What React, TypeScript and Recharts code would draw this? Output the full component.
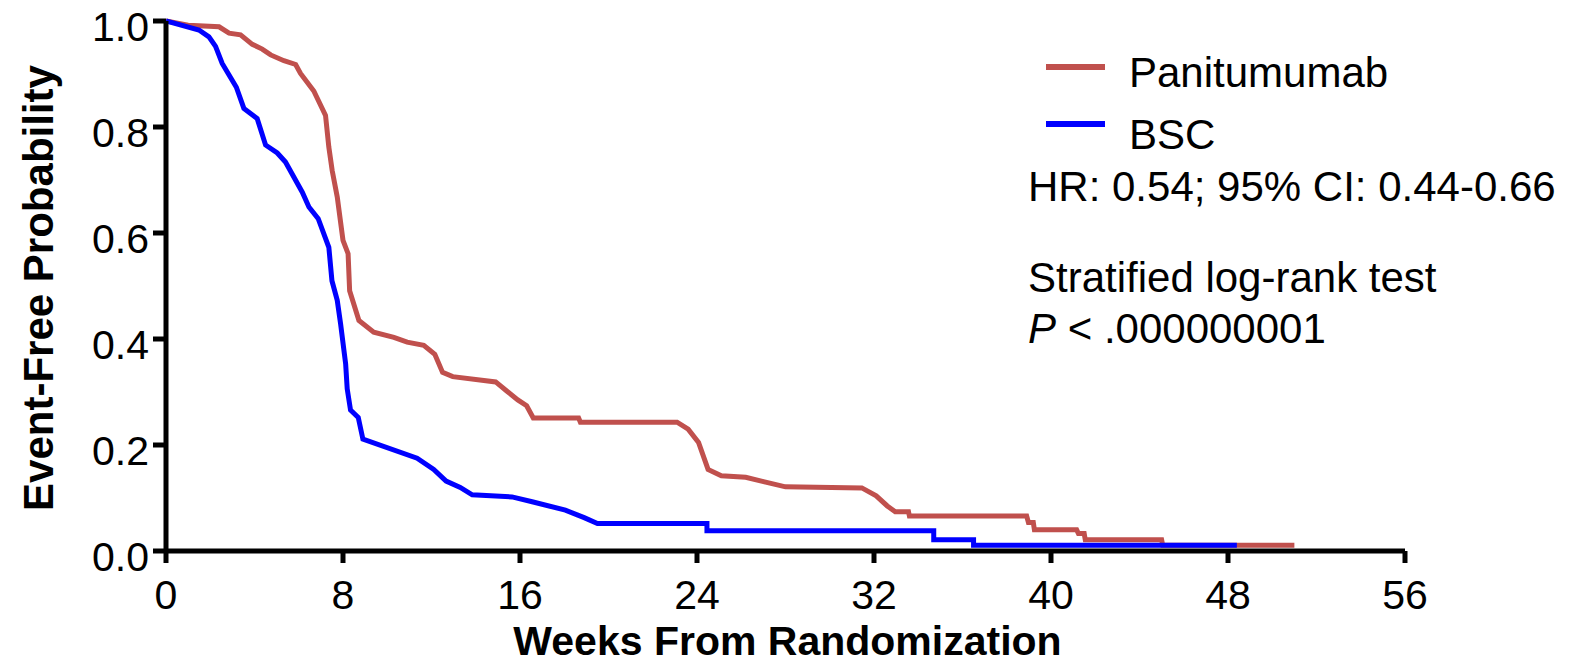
import { LineChart, Line, XAxis, YAxis, Legend, Label } from 'recharts';

const FONT = '"Liberation Sans", Arial, Helvetica, sans-serif';

// Kaplan-Meier estimates (weeks, event-free probability)
const panitumumabWeeks = [
  0, 1.0, 2.4, 2.85, 3.37, 3.9, 4.35, 4.73, 5.33, 5.86, 6.08, 6.68, 7.21, 7.36, 7.51, 7.74, 8.0,
  8.23, 8.3, 8.72, 9.39, 10.3, 10.9, 11.65, 12.15, 12.5, 12.96, 14.9, 15.4, 15.9, 16.3, 16.6,
  18.65, 18.73, 23.1, 23.6, 24.07, 24.5, 25.1, 26.2, 27.1, 28.0, 31.45, 32.1, 32.6, 32.96, 33.56,
  33.6, 38.9, 38.98, 39.2, 39.25, 41.16, 41.24, 41.5, 41.55, 45.0, 45.05, 51.0,
];
const panitumumabSurvival = [
  1.0, 0.992, 0.989, 0.977, 0.974, 0.956, 0.947, 0.936, 0.925, 0.918, 0.901, 0.868, 0.822, 0.762,
  0.718, 0.668, 0.586, 0.561, 0.491, 0.435, 0.413, 0.403, 0.394, 0.388, 0.371, 0.337, 0.329, 0.319,
  0.302, 0.285, 0.274, 0.251, 0.251, 0.243, 0.243, 0.23, 0.205, 0.154, 0.142, 0.139, 0.13, 0.121,
  0.119, 0.104, 0.085, 0.074, 0.074, 0.066, 0.066, 0.054, 0.054, 0.04, 0.04, 0.033, 0.033, 0.021,
  0.021, 0.011, 0.011,
];

const bscWeeks = [
  0, 1.49, 1.94, 2.24, 2.54, 2.85, 3.18, 3.52, 4.12, 4.5, 5.03, 5.4, 6.16, 6.46, 6.88, 7.36, 7.5,
  7.74, 7.89, 8.12, 8.19, 8.34, 8.69, 8.9, 11.35, 12.1, 12.66, 13.3, 13.84, 15.64, 16.55, 18.05,
  18.9, 19.5, 24.45, 24.45, 34.7, 34.7, 36.5, 36.5, 48.4,
];
const bscSurvival = [
  1.0, 0.983, 0.97, 0.952, 0.92, 0.898, 0.875, 0.835, 0.816, 0.766, 0.751, 0.734, 0.677, 0.649,
  0.627, 0.573, 0.51, 0.473, 0.429, 0.353, 0.306, 0.266, 0.252, 0.211, 0.175, 0.154, 0.132, 0.12,
  0.106, 0.102, 0.093, 0.077, 0.063, 0.052, 0.052, 0.038, 0.038, 0.021, 0.021, 0.011, 0.011,
];

const weekTicks = [0, 8, 16, 24, 32, 40, 48, 56];
const probabilityTicks = [0, 0.2, 0.4, 0.6, 0.8, 1.0];

const hazardText = 'HR: 0.54; 95% CI: 0.44-0.66';
const testText = 'Stratified log-rank test';
const pValueText = ' < .000000001';

const toPoints = (weeks: number[], survival: number[]) =>
  weeks.map((week, i) => ({ week, prob: survival[i] }));

const series = [
  { name: 'Panitumumab', color: '#C0504D', width: 5, data: toPoints(panitumumabWeeks, panitumumabSurvival) },
  { name: 'BSC', color: '#0000FF', width: 5, data: toPoints(bscWeeks, bscSurvival) },
];

const XTick = ({ x, y, payload }: any) => (
  <text x={x} y={y} dy={46} textAnchor="middle" fill="#000" fontSize={41} fontFamily={FONT}>
    {payload.value}
  </text>
);

const YTick = ({ x, y, payload }: any) => (
  <text x={x} y={y} dy={20} textAnchor="end" fill="#000" fontSize={41} fontFamily={FONT}>
    {Number(payload.value).toFixed(1)}
  </text>
);

const KmLegend = () => (
  <svg width={560} height={330} style={{ display: 'block' }}>
    {series.map((s, i) => (
      <g key={s.name}>
        <line x1={26} x2={85} y1={37 + 57 * i} y2={37 + 57 * i} stroke={s.color} strokeWidth={6} />
        <text x={109} y={57 + 62 * i} fontSize={42} fontFamily={FONT} fill="#000">
          {s.name}
        </text>
      </g>
    ))}
    <text x={8} y={171} fontSize={42} fontFamily={FONT} fill="#000">{hazardText}</text>
    <text x={8} y={262} fontSize={42} fontFamily={FONT} fill="#000">{testText}</text>
    <text x={8} y={313} fontSize={42} fontFamily={FONT} fill="#000">
      <tspan fontStyle="italic">P</tspan>
      {pValueText}
    </text>
  </svg>
);

export default function App() {
  return (
    <div style={{ position: 'absolute', left: 0, top: 0, width: 1580, height: 664, background: '#fff' }}>
      <LineChart width={1580} height={664} margin={{ top: 21, right: 175, bottom: 0, left: 0 }}>
        <XAxis
          type="number"
          dataKey="week"
          domain={[0, 56]}
          ticks={weekTicks}
          allowDataOverflow
          height={113}
          axisLine={{ stroke: '#000', strokeWidth: 5 }}
          tickLine={{ stroke: '#000', strokeWidth: 5 }}
          tickSize={12}
          tickMargin={0}
          tick={<XTick />}
        >
          <Label
            content={({ viewBox }: any) => (
              <text
                x={viewBox.x + viewBox.width / 2 + 2}
                y={viewBox.y + 104}
                textAnchor="middle"
                fontSize={41}
                fontWeight="bold"
                fontFamily={FONT}
                fill="#000"
              >
                Weeks From Randomization
              </text>
            )}
          />
        </XAxis>
        <YAxis
          type="number"
          domain={[0, 1]}
          ticks={probabilityTicks}
          width={166}
          axisLine={{ stroke: '#000', strokeWidth: 5 }}
          tickLine={{ stroke: '#000', strokeWidth: 5 }}
          tickSize={13}
          tickMargin={4}
          tick={<YTick />}
        >
          <Label
            content={({ viewBox }: any) => {
              const cx = viewBox.x + 53;
              const cy = viewBox.y + viewBox.height / 2 + 2;
              return (
                <text
                  x={cx}
                  y={cy}
                  transform={`rotate(-90 ${cx} ${cy})`}
                  textAnchor="middle"
                  fontSize={42}
                  fontWeight="bold"
                  fontFamily={FONT}
                  fill="#000"
                >
                  Event-Free Probability
                </text>
              );
            }}
          />
        </YAxis>
        <Legend
          layout="horizontal"
          verticalAlign="middle"
          align="center"
          wrapperStyle={{ left: 1020, top: 30, width: 560, height: 330 }}
          content={() => <KmLegend />}
        />
        {series.map((s) => (
          <Line
            key={s.name}
            name={s.name}
            data={s.data}
            dataKey="prob"
            type="linear"
            stroke={s.color}
            strokeWidth={s.width}
            dot={false}
            activeDot={false}
            isAnimationActive={false}
          />
        ))}
      </LineChart>
    </div>
  );
}
